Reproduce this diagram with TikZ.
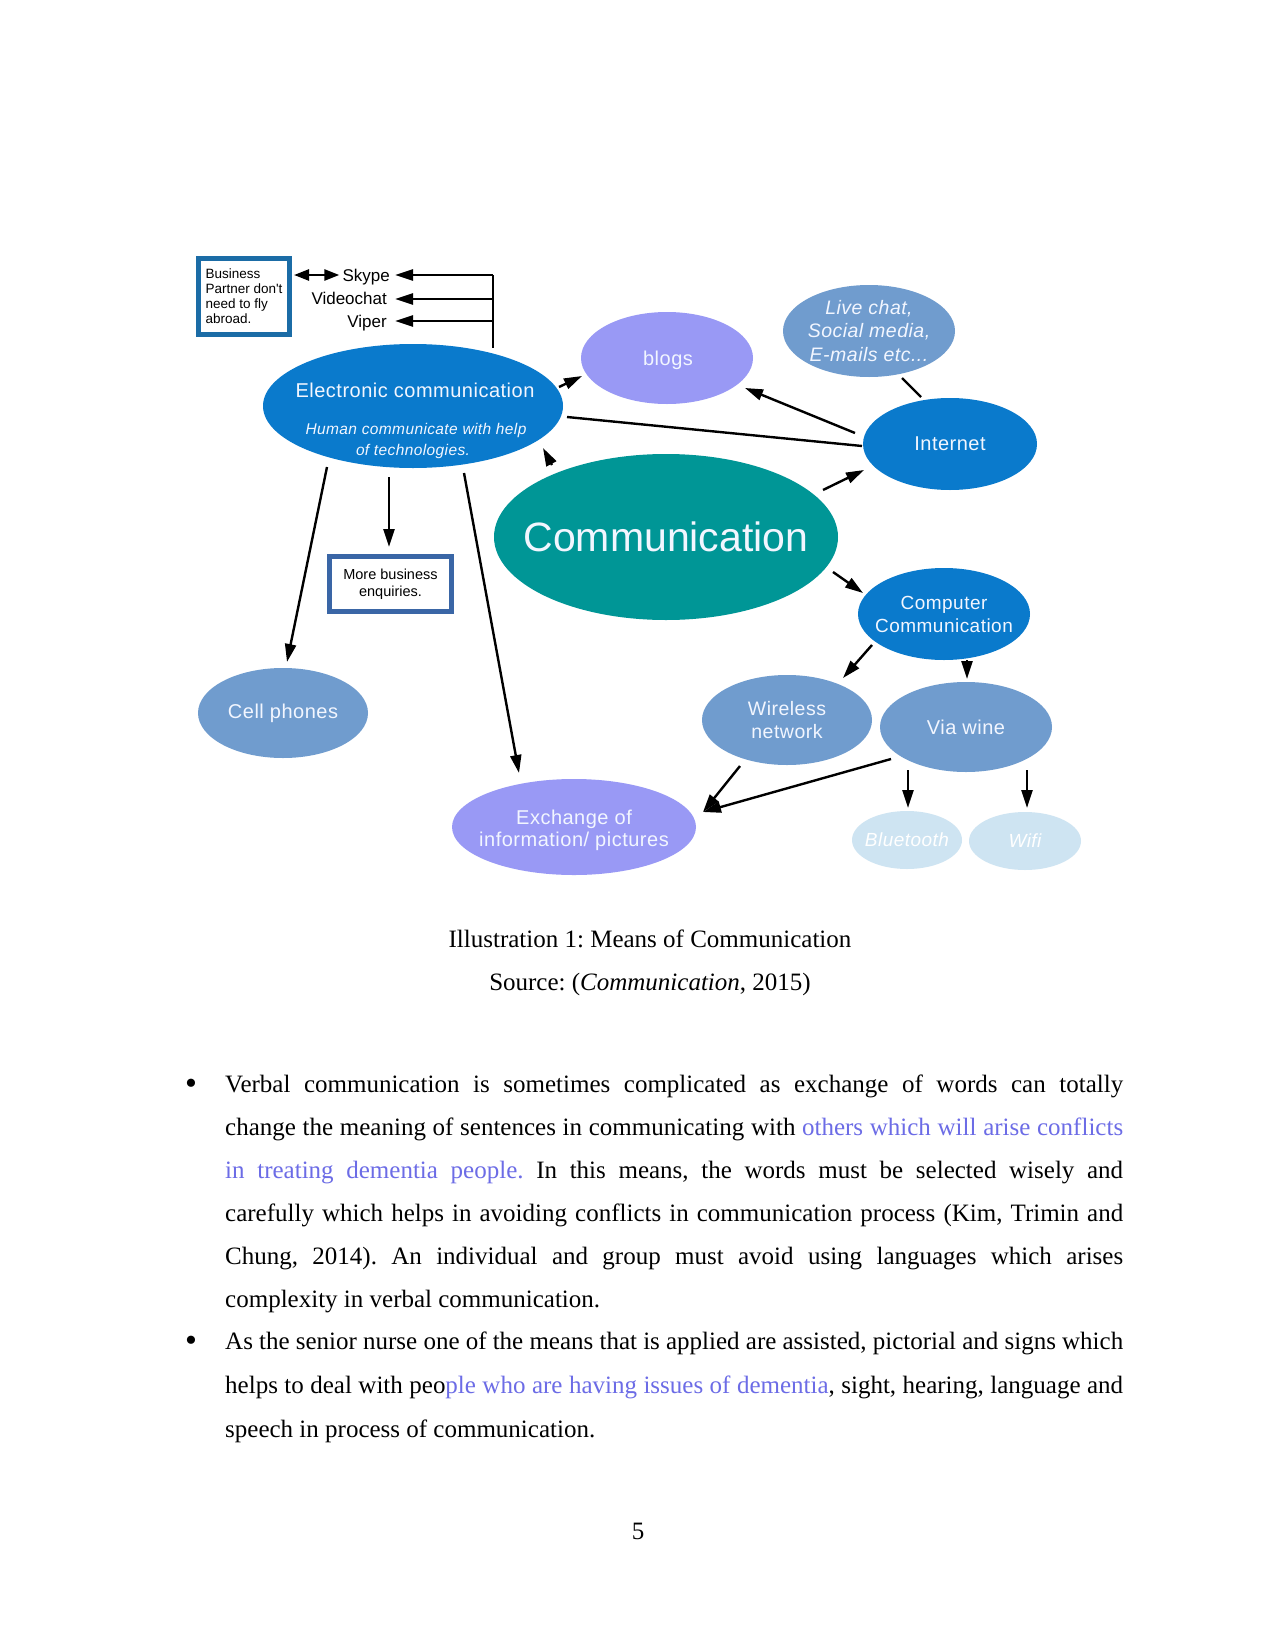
\documentclass[tikz,border=0pt]{standalone}
\usepackage{fontspec}
\setmainfont{Liberation Serif}
\newfontfamily\arialf{Liberation Sans}
\newfontfamily\arialw{Liberation Sans}[LetterSpace=2.5]
\usetikzlibrary{shapes.geometric,arrows.meta}
\definecolor{cblue}{RGB}{10,122,204}
\definecolor{cteal}{RGB}{0,150,150}
\definecolor{clav}{RGB}{153,153,245}
\definecolor{cmid}{RGB}{112,156,206}
\definecolor{clight}{RGB}{206,228,242}
\definecolor{bizblue}{RGB}{27,108,166}
\definecolor{moreblue}{RGB}{58,102,166}
\definecolor{linkblue}{RGB}{108,108,230}
\definecolor{ntext}{RGB}{242,246,255}
\frenchspacing
\begin{document}
\frenchspacing
\begin{tikzpicture}[x=1pt,y=-1pt,
  elli/.style={ellipse, draw=none, inner sep=0pt, outer sep=0pt},
  ntxt/.style={text=ntext, align=center, inner sep=0pt},
  arr/.style={line width=2.4pt, -{Triangle[length=18pt,width=11pt]}},
  conn/.style={line width=2.4pt},
  darr/.style={line width=2.4pt, {Triangle[length=15pt,width=11pt]}-{Triangle[length=15pt,width=11pt]}},
  lbl/.style={font=\arialf\fontsize{17}{20}\selectfont, inner sep=0pt, anchor=base east},
  bodyline/.style={anchor=base west, inner sep=0pt, font=\fontsize{25}{30}\selectfont},
  captxt/.style={anchor=base, inner sep=0pt, font=\fontsize{25}{30}\selectfont},
]
\fill[white] (0,0) rectangle (1275,1651);
\useasboundingbox (0,0) rectangle (1275,1651);

% ---------- boxes ----------
\node[draw=bizblue, line width=5pt, fill=white, minimum width=91, minimum height=76,
      inner sep=0pt, align=left, font=\arialf\fontsize{13.5}{15}\selectfont] (biz) at (244,296.5)
      {Business\\Partner don't\\need to fly\\abroad.};
\node[draw=moreblue, line width=5pt, fill=white, minimum width=122, minimum height=55,
      inner sep=0pt, align=center, font=\arialf\fontsize{14.5}{17.5}\selectfont] (more) at (390.5,584)
      {More business\\enquiries.};

\node[lbl] (skype) at (390,281) {Skype};
\node[lbl] (video) at (387,304) {Videochat};
\node[lbl] (viper) at (387,327) {Viper};

% ---------- ellipses ----------
\node[elli, fill=cblue, minimum width=300, minimum height=124] (elec) at (413,406) {};
\node[elli, fill=clav, minimum width=172, minimum height=92] (blogs) at (667,358) {};
\node[elli, fill=cmid, minimum width=172, minimum height=92] (live) at (869,331) {};
\node[elli, fill=cblue, minimum width=174, minimum height=92] (inet) at (950,444) {};
\node[elli, fill=cteal, minimum width=344, minimum height=166] (comm) at (666,537) {};
\node[elli, fill=cblue, minimum width=172, minimum height=92] (comp) at (944,614) {};
\node[elli, fill=cmid, minimum width=170, minimum height=90] (wire) at (787,720) {};
\node[elli, fill=cmid, minimum width=172, minimum height=90] (via) at (966,727) {};
\node[elli, fill=cmid, minimum width=170, minimum height=90] (cell) at (283,713) {};
\node[elli, fill=clav, minimum width=244, minimum height=96] (exch) at (574,827) {};
\node[elli, fill=clight, minimum width=110, minimum height=58] (blue) at (907,840) {};
\node[elli, fill=clight, minimum width=112, minimum height=58] (wifi) at (1025,841) {};

% ---------- ellipse texts ----------
\node[ntxt, anchor=base, font=\arialw\fontsize{20}{24}\selectfont] at ([shift={(2,-9)}]elec.center) {Electronic communication};
\node[ntxt, anchor=base, font=\arialw\itshape\fontsize{15.5}{21}\selectfont] at ([shift={(3,28)}]elec.center) {Human communicate with help};
\node[ntxt, anchor=base, font=\arialw\itshape\fontsize{15.5}{21}\selectfont] at ([shift={(0,49)}]elec.center) {of technologies.};
\node[ntxt, anchor=base, font=\arialw\fontsize{20}{24}\selectfont] at ([shift={(1,7)}]blogs.center) {blogs};
\node[ntxt, font=\arialw\itshape\fontsize{19.5}{23.5}\selectfont] at (live) {Live chat,\\Social media,\\E-mails etc...};
\node[ntxt, font=\arialw\fontsize{20}{24}\selectfont] at (inet) {Internet};
\node[ntxt, font=\arialf\fontsize{41}{48}\selectfont] at (comm) {Communication};
\node[ntxt, font=\arialw\fontsize{19}{23}\selectfont] at (comp) {Computer\\Communication};
\node[ntxt, font=\arialw\fontsize{19.5}{23}\selectfont] at (wire) {Wireless\\network};
\node[ntxt, font=\arialw\fontsize{20}{24}\selectfont] at (via) {Via wine};
\node[ntxt, font=\arialw\fontsize{20}{24}\selectfont] at (cell) {Cell phones};
\node[ntxt, font=\arialw\fontsize{20}{22}\selectfont] at ([shift={(0,3)}]exch.center) {Exchange of\\information/ pictures};
\node[ntxt, text=white, font=\arialw\itshape\fontsize{19}{23}\selectfont] at (blue) {Bluetooth};
\node[ntxt, text=white, font=\arialw\itshape\fontsize{19}{23}\selectfont] at (wifi) {Wifi};

% ---------- connectors ----------
\coordinate (t1) at (493,275);
\coordinate (t2) at (493,299);
\coordinate (t3) at (493,321);
\draw[conn] (t1) -- ([shift={(80,-58)}]elec.center);
\draw[arr, shorten >=5pt] (t1) -- (t1 -| skype.east);
\draw[arr, shorten >=8pt] (t2) -- (t2 -| video.east);
\draw[arr, shorten >=8pt] (t3) -- (t3 -| viper.east);
\draw[darr, shorten <=2pt, shorten >=3pt] (t1 -| biz.east) -- (t1 -| skype.west);

\draw[arr] ([shift={(146,-19)}]elec.center) -- ([shift={(-85,18)}]blogs.center);
\draw[arr] ([shift={(-95,-11)}]inet.center) -- ([shift={(78,30)}]blogs.center);
\draw[conn] ([shift={(154,11)}]elec.center) -- ([shift={(-88,2)}]inet.center);
\draw[conn] ([shift={(33,47)}]live.center) -- ([shift={(-29,-47)}]inet.center);
\draw[arr] ([shift={(157,-47)}]comm.center) -- ([shift={(-86,26)}]inet.center);
\draw[arr] ([shift={(-114,-72)}]comm.center) -- ([shift={(130,42)}]elec.center);
\draw[arr] ([shift={(167,35)}]comm.center) -- ([shift={(-81,-21)}]comp.center);
\draw[arr] ([shift={(-86,61)}]elec.center) -- ([shift={(4,-51)}]cell.center);
\draw[arr] ([shift={(-24,71)}]elec.center) -- ([shift={(-1.5,-37)}]more.center);
\draw[arr] ([shift={(51,67)}]elec.center) -- ([shift={(-55,-54)}]exch.center);
\draw[arr] ([shift={(-72,31)}]comp.center) -- ([shift={(56,-42)}]wire.center);
\draw[arr] ([shift={(23,46)}]comp.center) -- ([shift={(1,-48)}]via.center);
\draw[arr] ([shift={(-47,46)}]wire.center) -- ([shift={(129,-15)}]exch.center);
\draw[arr] ([shift={(-75,32)}]via.center) -- ([shift={(129,-15)}]exch.center);
\draw[arr] ([shift={(-58,43)}]via.center) -- ([shift={(1,-32)}]blue.center);
\draw[arr] ([shift={(61,43)}]via.center) -- ([shift={(2,-33)}]wifi.center);

% ---------- caption ----------
\node[captxt] (cap1) at (650,947) {Illustration 1: Means of Communication};
\node[captxt] (cap2) at (650,990) {Source: (\textit{Communication}, 2015)};

% ---------- body text ----------
\node[captxt, font=\fontsize{34}{34}\selectfont] (b1) at (191,1094) {\textbullet};
\node[captxt, font=\fontsize{34}{34}\selectfont] (b2) at (191,1351) {\textbullet};
\node[bodyline] (l1) at (225,1092) {\makebox[898pt][s]{Verbal communication is sometimes complicated as exchange of words can totally}};
\node[bodyline] (l2) at (225,1135) {\makebox[898pt][s]{change the meaning of sentences in communicating with \textcolor{linkblue}{others which will arise conflicts}}};
\node[bodyline] (l3) at (225,1178) {\makebox[898pt][s]{\textcolor{linkblue}{in treating dementia people.} In this means, the words must be selected wisely and}};
\node[bodyline] (l4) at (225,1221) {\makebox[898pt][s]{carefully which helps in avoiding conflicts in communication process (Kim, Trimin and}};
\node[bodyline] (l5) at (225,1264) {\makebox[898pt][s]{Chung, 2014). An individual and group must avoid using languages which arises}};
\node[bodyline] (l6) at (225,1307) {complexity in verbal communication.};
\node[bodyline] (l7) at (225,1349) {\makebox[898pt][s]{As the senior nurse one of the means that is applied are assisted, pictorial and signs which}};
\node[bodyline] (l8) at (225,1393) {\makebox[898pt][s]{helps to deal with peo\textcolor{linkblue}{ple who are having issues of dementia}, sight, hearing, language and}};
\node[bodyline] (l9) at (225,1437) {speech in process of communication.};

\node[captxt] (pg) at (638,1539) {5};
\end{tikzpicture}
\end{document}
